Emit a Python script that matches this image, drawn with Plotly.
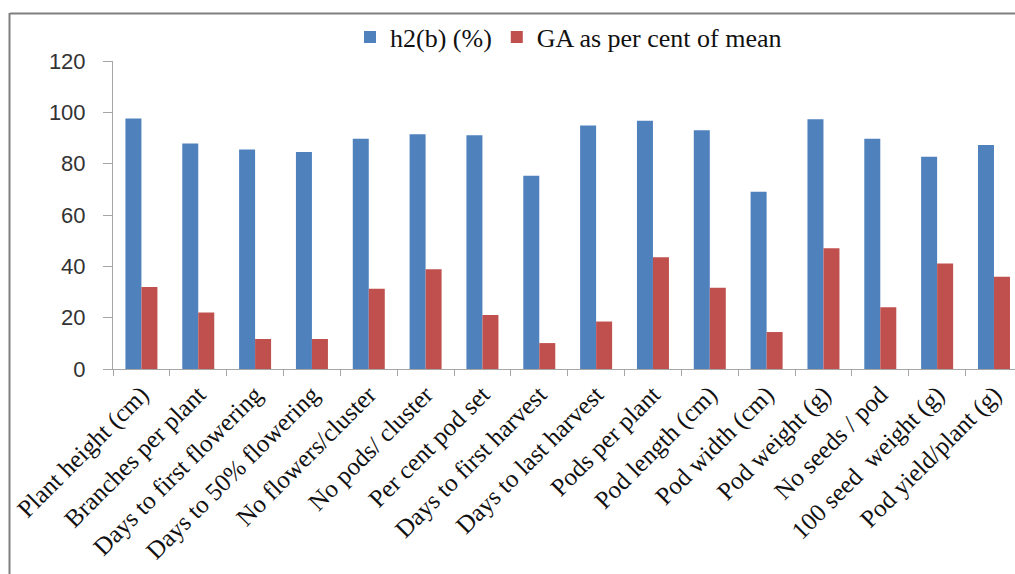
import plotly.graph_objects as go

# Traits evaluated
traits = [
    "Plant height (cm)", "Branches per plant", "Days to first flowering",
    "Days to 50% flowering", "No flowers/cluster", "No pods/ cluster",
    "Per cent pod set", "Days to first harvest", "Days to last harvest",
    "Pods per plant", "Pod length (cm)", "Pod width (cm)", "Pod weight (g)",
    "No seeds / pod", "100 seed  weight (g)", "Pod yield/plant (g)",
]

# Broad-sense heritability (%)
heritability = [97.6, 87.9, 85.5, 84.5, 89.7, 91.5, 91.1, 75.3,
                94.9, 96.7, 93.0, 69.1, 97.3, 89.7, 82.7, 87.3]

# Genetic advance as per cent of mean
genetic_advance = [31.9, 22.0, 11.7, 11.7, 31.3, 38.9, 21.0, 10.1,
                   18.5, 43.5, 31.7, 14.4, 47.0, 24.1, 41.1, 35.9]

y_ticks = [0, 20, 40, 60, 80, 100, 120]

W, H = 1015, 574
L, R, T, B = 113, 0, 61, 205
plot_w = W - L - R
plot_h = H - T - B


def px_x(px):
    return (px - L) / plot_w


def px_y(py):
    return (H - B - py) / plot_h


fig = go.Figure()
fig.add_trace(go.Bar(x=traits, y=heritability, name="h2(b) (%)",
                     marker=dict(color="#4F81BD", line=dict(width=0))))
fig.add_trace(go.Bar(x=traits, y=genetic_advance, name="GA as per cent of mean",
                     marker=dict(color="#C0504D", line=dict(width=0))))

axis_grey = "#A6A6A6"

fig.update_layout(
    width=W, height=H,
    margin=dict(l=L, r=R, t=T, b=B, autoexpand=False),
    paper_bgcolor="white", plot_bgcolor="white",
    barmode="group", bargap=0.437, bargroupgap=0,
    showlegend=True,
    legend=dict(
        orientation="h", x=px_x(350), y=px_y(37),
        xanchor="left", yanchor="middle",
        font=dict(family="Liberation Serif", size=26, color="#111111"),
        bgcolor="rgba(0,0,0,0)", borderwidth=0,
        traceorder="normal",
    ),
    xaxis=dict(
        range=[-0.5, 15.37], type="category",
        showline=True, linecolor=axis_grey, linewidth=1,
        ticks="outside", tickson="boundaries", ticklen=6,
        tickcolor=axis_grey, tickwidth=1,
        tickangle=-45, showgrid=False, zeroline=False,
        tickfont=dict(family="Liberation Serif", size=25, color="#111111"),
        automargin=False,
    ),
    yaxis=dict(
        range=[0, 120], tickvals=y_ticks,
        showline=True, linecolor=axis_grey, linewidth=1,
        ticks="outside", ticklen=9, tickcolor=axis_grey, tickwidth=1,
        showgrid=False, zeroline=False,
        ticklabelstandoff=13,
        tickfont=dict(family="Liberation Sans", size=22, color="#333333"),
        automargin=False,
    ),
)

# Frame around the chart area
frame = "#7F7F7F"
fig.add_shape(type="line", xref="paper", yref="paper",
              x0=px_x(10), x1=px_x(W + 5), y0=px_y(13.5), y1=px_y(13.5),
              line=dict(color=frame, width=2))
fig.add_shape(type="line", xref="paper", yref="paper",
              x0=px_x(9.5), x1=px_x(9.5), y0=px_y(13), y1=px_y(H + 5),
              line=dict(color=frame, width=2))

fig.write_html("out.html")
